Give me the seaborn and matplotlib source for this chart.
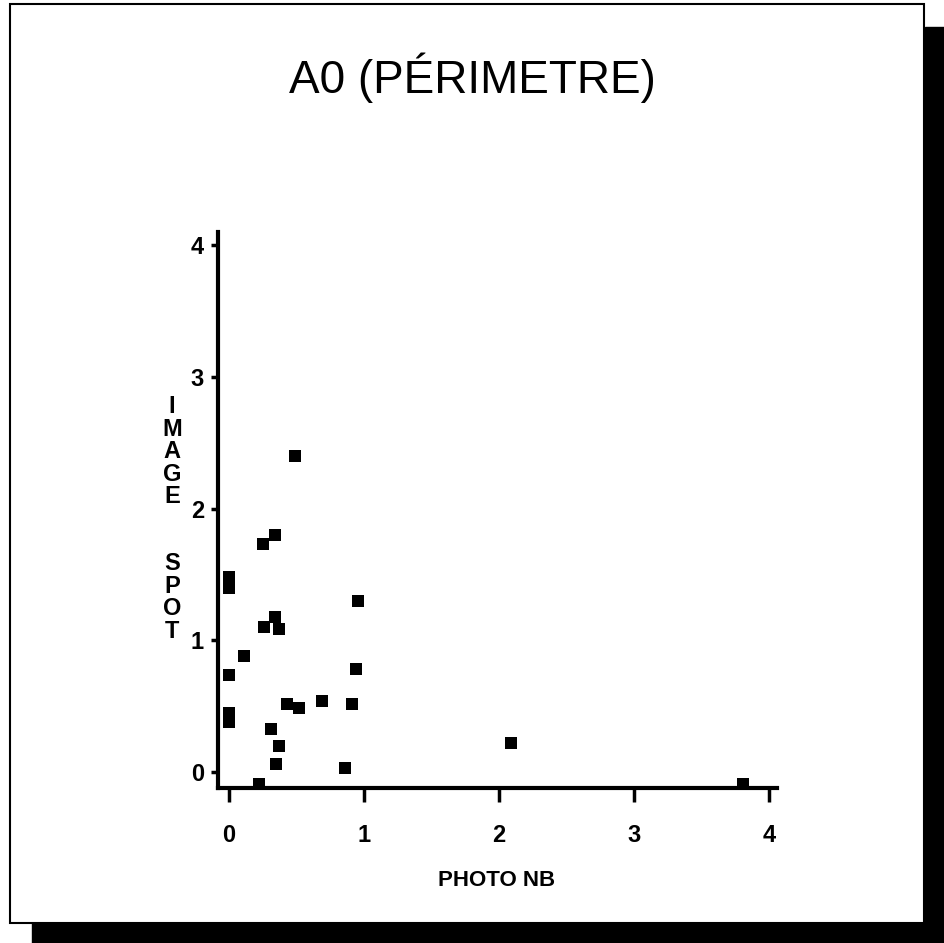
import numpy as np
import pandas as pd
import matplotlib
matplotlib.use("Agg")
import matplotlib.pyplot as plt
import seaborn as sns
from matplotlib.patches import Rectangle

# valeurs
photo_nb = [0.49, 0.25, 0.34, 0.0, 0.0, 0.96, 0.26, 0.34, 0.37, 0.11, 0.0,
            0.94, 0.0, 0.0, 0.43, 0.52, 0.69, 0.91, 0.31, 0.37, 0.35, 0.86,
            0.22, 2.09, 3.81]
image_spot = [2.40, 1.73, 1.80, 1.48, 1.40, 1.30, 1.10, 1.18, 1.09, 0.88, 0.74,
              0.78, 0.45, 0.38, 0.52, 0.49, 0.54, 0.52, 0.33, 0.20, 0.06, 0.03,
              -0.09, 0.22, -0.09]
ticks = [0, 1, 2, 3, 4]

titre = "A0 (PÉRIMETRE)"
label_x = "PHOTO NB"
label_y = "IMAGE  SPOT"

df = pd.DataFrame({"x": photo_nb, "y": image_spot})

sns.set_style("white")
plt.rcParams['font.family'] = ['Liberation Sans', 'DejaVu Sans']
plt.rcParams['text.color'] = 'black'
plt.rcParams['xtick.color'] = 'black'
plt.rcParams['ytick.color'] = 'black'

fig = plt.figure(figsize=(9.44, 9.43), dpi=100)

# cadre et ombre
fig.patches.append(Rectangle((925 / 944, 0), 19 / 944, 1 - 27 / 943,
                             transform=fig.transFigure, color="black", zorder=0))
fig.patches.append(Rectangle((32 / 944, 0), 1 - 32 / 944, 20 / 943,
                             transform=fig.transFigure, color="black", zorder=0))
fig.patches.append(Rectangle((10 / 944, 20 / 943), 914 / 944, 919 / 943,
                             transform=fig.transFigure, fill=False,
                             edgecolor="black", linewidth=1.5, zorder=1))

ax = fig.add_axes([218 / 944, 1 - 788 / 943, (777 - 218) / 944, (788 - 232) / 943])
sns.scatterplot(data=df, x="x", y="y", marker="s", s=85, color="black",
                edgecolor="black", linewidth=0, ax=ax, clip_on=False, zorder=3)

ax.set_xlim(-0.08, 4.06)
ax.set_ylim(-0.12, 4.1)
ax.set_xticks(ticks)
ax.set_yticks(ticks)
ax.set_xticklabels([str(t) for t in ticks], fontsize=17, fontweight="bold")
ax.set_yticklabels([str(t) for t in ticks], fontsize=17, fontweight="bold")
ax.tick_params(axis="x", direction="out", length=10, width=2.5, pad=16, bottom=True)
ax.tick_params(axis="y", direction="out", length=5, width=2.5, pad=5, left=True)
ax.set_xlabel("")
ax.set_ylabel("")

for s in ["top", "right"]:
    ax.spines[s].set_visible(False)
for s in ["left", "bottom"]:
    ax.spines[s].set_linewidth(3)
    ax.spines[s].set_color("black")

fig.text(472 / 944, 1 - 78 / 943, titre, ha="center", va="center",
         fontsize=33, fontweight="medium")
fig.text(497 / 944, 1 - 880 / 943, label_x, ha="center", va="center",
         fontsize=16, fontweight="bold")
fig.text(172 / 944, 1 - 519 / 943, "\n".join(label_y), ha="center", va="center",
         fontsize=17, fontweight="bold", linespacing=0.97)

fig.savefig("out.png", dpi=100)
